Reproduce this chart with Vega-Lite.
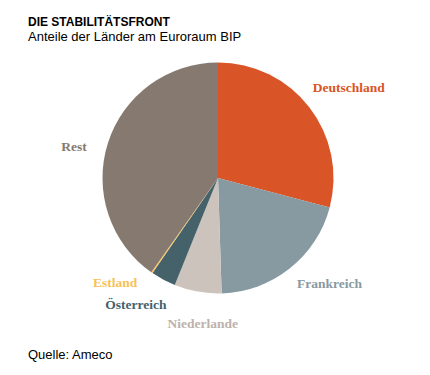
{
  "$schema": "https://vega.github.io/schema/vega-lite/v6.json",
  "background": "white",
  "padding": {"left": 28, "top": 16, "right": 22, "bottom": 8},
  "title": {
    "text": "DIE STABILITÄTSFRONT",
    "subtitle": "Anteile der Länder am Euroraum BIP",
    "anchor": "start",
    "frame": "group",
    "font": "Liberation Sans",
    "fontSize": 12,
    "fontWeight": "bold",
    "color": "#000000",
    "subtitleFont": "Liberation Sans",
    "subtitleFontSize": 13,
    "subtitleColor": "#000000",
    "subtitlePadding": 2,
    "offset": 5
  },
  "datasets": {
    "shares": [
      {"nr": 1, "land": "Deutschland", "anteil": 29.1},
      {"nr": 2, "land": "Frankreich", "anteil": 20.4},
      {"nr": 3, "land": "Niederlande", "anteil": 6.6},
      {"nr": 4, "land": "Österreich", "anteil": 3.5},
      {"nr": 5, "land": "Estland", "anteil": 0.2},
      {"nr": 6, "land": "Rest", "anteil": 40.2}
    ]
  },
  "vconcat": [
    {
      "width": 380,
      "height": 256,
      "title": {
        "text": "Quelle: Ameco",
        "orient": "bottom",
        "anchor": "start",
        "frame": "group",
        "font": "Liberation Sans",
        "fontSize": 13,
        "fontWeight": "normal",
        "color": "#000000",
        "offset": 3
      },
      "data": {"name": "shares"},
      "encoding": {
        "theta": {"field": "anteil", "type": "quantitative", "stack": true},
        "order": {"field": "nr", "type": "quantitative"},
        "color": {
          "field": "land",
          "type": "nominal",
          "scale": {
            "domain": ["Deutschland", "Frankreich", "Niederlande", "Österreich", "Estland", "Rest"],
            "range": ["#D95426", "#8799A1", "#CBC3BC", "#45616A", "#F7C259", "#867A70"]
          },
          "legend": null
        }
      },
      "layer": [
        {"mark": {"type": "arc", "outerRadius": 115.5}},
        {
          "mark": {"type": "text", "radius": 150, "dx": 12, "dy": 2, "font": "Liberation Serif", "fontWeight": "bold", "fontSize": 13.5},
          "encoding": {"text": {"condition": {"test": "datum.land === 'Deutschland'", "field": "land"}, "value": ""}}
        },
        {
          "mark": {"type": "text", "radius": 150, "dx": 18, "dy": -11, "font": "Liberation Serif", "fontWeight": "bold", "fontSize": 13.5},
          "encoding": {"text": {"condition": {"test": "datum.land === 'Frankreich'", "field": "land"}, "value": ""}}
        },
        {
          "mark": {"type": "text", "radius": 150, "dx": 11, "dy": -2, "font": "Liberation Serif", "fontWeight": "bold", "fontSize": 13.5},
          "encoding": {"color": {"value": "#BDB2AB"}, "text": {"condition": {"test": "datum.land === 'Niederlande'", "field": "land"}, "value": ""}}
        },
        {
          "mark": {"type": "text", "radius": 150, "dx": -11, "dy": -5, "font": "Liberation Serif", "fontWeight": "bold", "fontSize": 13.5},
          "encoding": {"text": {"condition": {"test": "datum.land === 'Österreich'", "field": "land"}, "value": ""}}
        },
        {
          "mark": {"type": "text", "radius": 150, "dx": -17, "dy": -18, "font": "Liberation Serif", "fontWeight": "bold", "fontSize": 13.5},
          "encoding": {"text": {"condition": {"test": "datum.land === 'Estland'", "field": "land"}, "value": ""}}
        },
        {
          "mark": {"type": "text", "radius": 150, "dx": -1, "dy": 14, "font": "Liberation Serif", "fontWeight": "bold", "fontSize": 13.5},
          "encoding": {"text": {"condition": {"test": "datum.land === 'Rest'", "field": "land"}, "value": ""}}
        }
      ]
    }
  ],
  "config": {"view": {"stroke": null}, "concat": {"spacing": 0}}
}
